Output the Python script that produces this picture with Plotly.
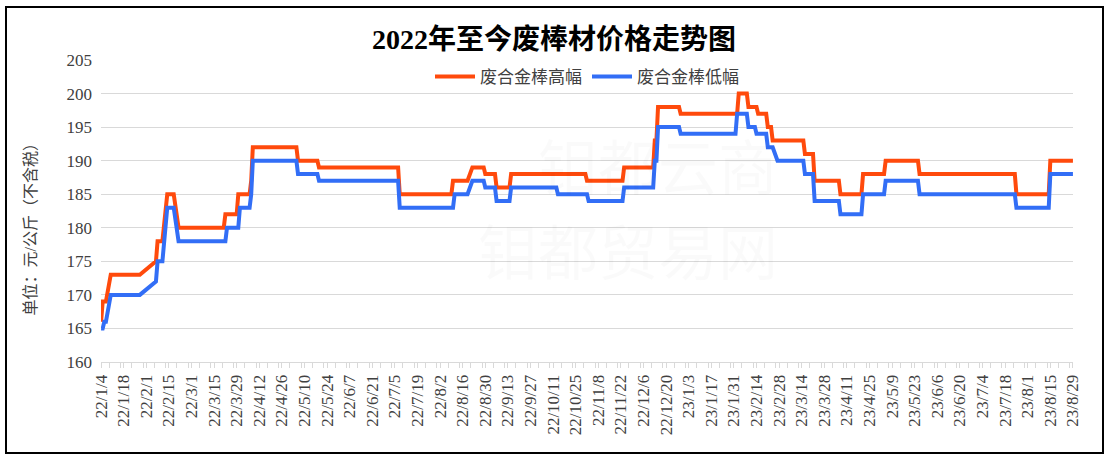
import plotly.graph_objects as go

# ---- data (plateaus of the daily price series) ----
series_names = ["废合金棒高幅", "废合金棒低幅"]

hi_start = ["2022-01-04", "2022-01-05", "2022-01-10", "2022-02-07", "2022-02-08", "2022-02-14",
            "2022-02-21", "2022-03-22", "2022-03-30", "2022-04-07", "2022-04-08", "2022-05-06",
            "2022-05-19", "2022-07-08", "2022-08-10", "2022-08-22", "2022-08-30", "2022-09-06",
            "2022-09-15", "2022-11-01", "2022-11-24", "2022-12-13", "2022-12-15", "2022-12-29",
            "2023-02-03", "2023-02-09", "2023-02-15", "2023-02-21", "2023-02-24", "2023-03-16",
            "2023-03-22", "2023-04-07", "2023-04-21", "2023-05-05", "2023-05-26", "2023-07-25",
            "2023-08-15"]
hi_end = ["2022-01-04", "2022-01-07", "2022-01-28", "2022-02-07", "2022-02-11", "2022-02-18",
          "2022-03-21", "2022-03-29", "2022-04-06", "2022-04-07", "2022-05-05", "2022-05-18",
          "2022-07-07", "2022-08-09", "2022-08-19", "2022-08-29", "2022-09-05", "2022-09-14",
          "2022-10-31", "2022-11-23", "2022-12-12", "2022-12-14", "2022-12-28", "2023-02-02",
          "2023-02-08", "2023-02-14", "2023-02-20", "2023-02-23", "2023-03-15", "2023-03-21",
          "2023-04-06", "2023-04-20", "2023-05-04", "2023-05-25", "2023-07-24", "2023-08-14",
          "2023-08-29"]
hi_val = [166, 169, 173, 175, 178, 185, 180, 182, 185, 187, 192, 190,
          189, 185, 187, 189, 188, 186, 188, 187, 189, 193, 198, 197,
          200, 198, 197, 195, 193, 191, 187, 185, 188, 190, 188, 185, 190]

lo_start = ["2022-01-04", "2022-01-06", "2022-01-10", "2022-02-07", "2022-02-08", "2022-02-14",
            "2022-02-21", "2022-03-23", "2022-03-31", "2022-04-07", "2022-04-08", "2022-05-06",
            "2022-05-19", "2022-07-08", "2022-08-11", "2022-08-22", "2022-08-30", "2022-09-06",
            "2022-09-15", "2022-10-14", "2022-11-02", "2022-11-24", "2022-12-13", "2022-12-15",
            "2022-12-29", "2023-02-02", "2023-02-09", "2023-02-14", "2023-02-21", "2023-02-27",
            "2023-03-16", "2023-03-22", "2023-04-07", "2023-04-21", "2023-05-05", "2023-05-26",
            "2023-07-25", "2023-08-15"]
lo_end = ["2022-01-05", "2022-01-07", "2022-01-28", "2022-02-07", "2022-02-11", "2022-02-18",
          "2022-03-22", "2022-03-30", "2022-04-06", "2022-04-07", "2022-05-05", "2022-05-18",
          "2022-07-07", "2022-08-10", "2022-08-19", "2022-08-29", "2022-09-05", "2022-09-14",
          "2022-10-13", "2022-11-01", "2022-11-23", "2022-12-12", "2022-12-14", "2022-12-28",
          "2023-02-01", "2023-02-08", "2023-02-13", "2023-02-20", "2023-02-24", "2023-03-15",
          "2023-03-21", "2023-04-06", "2023-04-20", "2023-05-04", "2023-05-25", "2023-07-24",
          "2023-08-14", "2023-08-29"]
lo_val = [165, 166, 170, 172, 175, 183, 178, 180, 183, 185, 190, 188,
          187, 183, 185, 187, 186, 184, 186, 185, 184, 186, 190, 195,
          194, 197, 195, 194, 192, 190, 188, 184, 182, 185, 187, 185,
          183, 188]

y_ticks = [160, 165, 170, 175, 180, 185, 190, 195, 200, 205]
title_text = "2022年至今废棒材价格走势图"
y_title = "单位：元/公斤（不含税）"


def expand(starts, ends, vals):
    xs, ys = [], []
    for s, e, v in zip(starts, ends, vals):
        xs += [s, e]
        ys += [v, v]
    return xs, ys


hx, hy = expand(hi_start, hi_end, hi_val)
lx, ly = expand(lo_start, lo_end, lo_val)

ORANGE = "#FF4A0C"
BLUE = "#326EF6"
SERIF = "Liberation Serif, Noto Sans CJK SC, serif"

fig = go.Figure()
fig.add_trace(go.Scatter(x=hx, y=hy, mode="lines", name=series_names[0],
                         line=dict(color=ORANGE, width=4)))
fig.add_trace(go.Scatter(x=lx, y=ly, mode="lines", name=series_names[1],
                         line=dict(color=BLUE, width=4)))

W, H = 1108, 457
L, R, T, B = 101, 35, 60, 95
pw, ph = W - L - R, H - T - B


def px_x(p):
    return (p - L) / pw


def px_y(p):
    return (H - B - p) / ph


DAY = 86400000
fig.update_layout(
    width=W, height=H,
    margin=dict(l=L, r=R, t=T, b=B),
    paper_bgcolor="white", plot_bgcolor="white",
    font=dict(family=SERIF, color="#404040", size=17),
    title=dict(text="<b>" + title_text + "</b>", x=0.5, xanchor="center",
               y=1 - 39 / H, yanchor="middle",
               font=dict(family="Liberation Serif, Noto Sans CJK SC", size=28, color="#000000")),
    showlegend=True,
    legend=dict(orientation="h", x=0.5, xanchor="center", y=px_y(77), yanchor="middle",
                bgcolor="rgba(0,0,0,0)", font=dict(size=17, color="#404040"),
                itemwidth=40, tracegroupgap=0),
    xaxis=dict(
        type="date",
        range=["2022-01-03 23:00", "2023-08-29 01:00"],
        tickmode="linear", tick0="2022-01-04", dtick=14 * DAY,
        tickformat="%y/%-m/%-d", tickangle=-90,
        tickfont=dict(family=SERIF, size=17, color="#404040"),
        showgrid=False, showline=True, linecolor="#d9d9d9", linewidth=1,
        ticks="outside", ticklen=5, tickcolor="#d9d9d9", tickwidth=1,
        minor=dict(ticks="outside", dtick=7 * DAY, ticklen=5, tickcolor="#d9d9d9", showgrid=False),
        zeroline=False,
    ),
    yaxis=dict(
        range=[160, 205], tickmode="array", tickvals=y_ticks,
        tickfont=dict(family=SERIF, size=17, color="#404040"),
        showgrid=True, gridcolor="#d9d9d9", gridwidth=1,
        showline=False, zeroline=False, ticks="", ticklabelstandoff=8,
    ),
)

# very faint watermark (kept well apart so the text boxes do not overlap)
wm = "rgba(0,0,0,0.02)"
fig.add_annotation(text="钼都云商", xref="paper", yref="paper", x=px_x(780), y=px_y(118),
                   showarrow=False, font=dict(size=60, color=wm, family="Noto Sans CJK SC"))
fig.add_annotation(text="钼都贸易网", xref="paper", yref="paper", x=px_x(780), y=px_y(248),
                   showarrow=False, font=dict(size=60, color=wm, family="Noto Sans CJK SC"))
fig.add_annotation(text="www.molychina.com", xref="paper", yref="paper", x=px_x(770), y=px_y(336),
                   showarrow=False, font=dict(size=30, color=wm, family="DejaVu Sans"))

# y axis title
fig.add_annotation(text=y_title, xref="paper", yref="paper", x=px_x(20), y=px_y(226),
                   showarrow=False, textangle=-90,
                   font=dict(size=16, color="#404040", family=SERIF))

# outer border
fig.add_shape(type="rect", xref="paper", yref="paper",
              x0=px_x(6), x1=px_x(1103), y0=px_y(453), y1=px_y(7),
              line=dict(color="#000000", width=2), fillcolor="rgba(0,0,0,0)", layer="above")

fig.write_html("out.html", config={"displayModeBar": False},
               post_script="document.body.style.margin='0';document.body.style.padding='0';")
